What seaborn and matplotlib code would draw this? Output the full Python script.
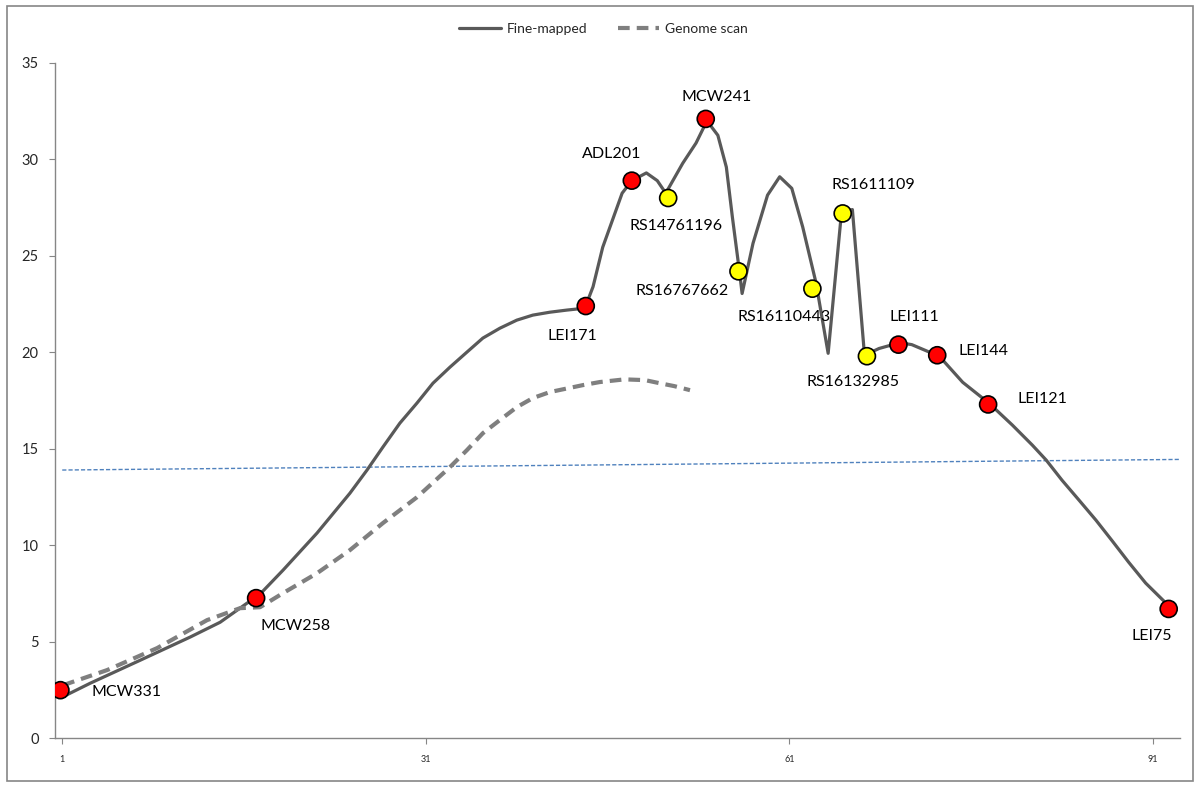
import matplotlib
matplotlib.use("Agg")
import pandas as pd
import matplotlib.pyplot as plt
import seaborn as sns
from matplotlib.patches import Rectangle

# Fine-mapped curve (position, score)
fine_x = [1, 3.31, 7.43, 11.55, 14.03, 16.25, 17.08, 19.22, 22.02, 24.74, 26.14, 27.46,
          28.86, 30.27, 31.59, 32.99, 34.39, 35.71, 37.11, 38.51, 39.83, 41.23, 42.63,
          44.12, 44.8, 45.6, 46.4, 47.2, 48.0, 49.2, 50.1, 50.8, 52.2, 53.3,
          54.2, 55.1, 55.8, 56.3, 56.9, 57.1, 58.0, 59.2, 60.2, 61.2, 62.1, 63.2,
          64.2, 65.3, 66.2, 67.2, 68.4, 70.1, 71.1, 72.6, 73.3, 75.3, 77.5, 79.4,
          81.05, 82.2, 83.5, 84.9, 86.3, 87.6, 89.0, 90.4, 92.4]
fine_y = [2.13, 2.85, 4.04, 5.24, 6.01, 7.0, 7.31, 8.71, 10.63, 12.70, 13.89, 15.09,
          16.33, 17.37, 18.40, 19.23, 20.01, 20.74, 21.25, 21.67, 21.93, 22.08, 22.19,
          22.29, 23.4, 25.45, 26.85, 28.25, 28.9, 29.3, 28.9, 28.25, 29.8, 30.85,
          32.0, 31.25, 29.6, 27.0, 24.1, 23.05, 25.65, 28.15, 29.1, 28.5, 26.5, 23.6,
          19.95, 27.25, 27.4, 19.85, 20.2, 20.5, 20.4, 20.0, 19.85, 18.45, 17.35, 16.23,
          15.19, 14.41, 13.37, 12.34, 11.30, 10.26, 9.12, 8.04, 6.8]

# Genome scan curve
scan_x = [1.08, 4.7, 8.83, 12.95, 15.67, 17.32, 19.22, 22.02, 24.74, 27.46, 30.27,
          32.99, 34.39, 35.71, 37.11, 38.51, 39.83, 41.23, 43.95, 45.35, 47.4, 49.1,
          50.3, 51.5, 52.8]
scan_y = [2.75, 3.53, 4.67, 6.12, 6.74, 6.79, 7.52, 8.55, 9.75, 11.15, 12.49,
          14.05, 14.93, 15.81, 16.49, 17.16, 17.63, 17.94, 18.30, 18.46, 18.6, 18.56,
          18.4, 18.25, 18.04]

# Threshold line end points
thr_x = [1, 93.2]
thr_y = [13.9, 14.45]

# Markers
marker_names = ["MCW331", "MCW258", "LEI171", "ADL201", "RS14761196", "MCW241",
                "RS16767662", "RS16110443", "RS1611109", "RS16132985", "LEI111",
                "LEI144", "LEI121", "LEI75"]
marker_x = [0.85, 17.0, 44.2, 48.0, 51.0, 54.1, 56.8, 62.9, 65.4, 67.4, 70.0, 73.2, 77.4, 92.3]
marker_y = [2.49, 7.26, 22.4, 28.9, 28.0, 32.1, 24.2, 23.3, 27.2, 19.8, 20.4, 19.85, 17.3, 6.7]
marker_kind = ["red", "red", "red", "red", "yellow", "red", "yellow", "yellow",
               "yellow", "yellow", "red", "red", "red", "red"]
# label offsets in pixels from the marker
label_dx = [66, 39, -13, -20, 8, 11, -56, -28, 31, -14, 16, 46, 54, -17]
label_dy = [-2, -28, -30, 27, -28, 22, -20, -28, 28, -26, 28, 4, 5, -27]

sns.set_style("white")
plt.rcParams["font.family"] = ["Lato", "DejaVu Sans"]
plt.rcParams["lines.solid_joinstyle"] = "round"
plt.rcParams["lines.dash_joinstyle"] = "round"

fig = plt.figure(figsize=(12, 7.87), dpi=100)
ax = fig.add_axes([0.046, 0.062, 0.937, 0.858])

fine = pd.DataFrame({"x": fine_x, "y": fine_y})
scan = pd.DataFrame({"x": scan_x, "y": scan_y})
marks = pd.DataFrame({"x": marker_x, "y": marker_y, "kind": marker_kind, "name": marker_names})

ax.plot(thr_x, thr_y, color="#4f81bd", lw=1.0, ls=(0, (3, 1.5)), zorder=1)
sns.lineplot(data=fine, x="x", y="y", ax=ax, sort=False, estimator=None,
             color="#595959", lw=2.3, label="Fine-mapped", zorder=2)
sns.lineplot(data=scan, x="x", y="y", ax=ax, sort=False, estimator=None,
             color="#7f7f7f", lw=3.0, ls=(0, (2.8, 1.7)), label="Genome scan", zorder=2)
sns.scatterplot(data=marks, x="x", y="y", hue="kind", palette={"red": "#ff0000", "yellow": "#ffff00"},
                s=150, edgecolor="black", linewidth=1.2, ax=ax, legend=False, zorder=3)

for name, x, y, dx, dy in zip(marker_names, marker_x, marker_y, label_dx, label_dy):
    ax.annotate(name, (x, y), xytext=(dx, dy), textcoords="offset pixels",
                ha="center", va="center", fontsize=11.5, color="black")

ax.set_xlim(0.42, 93.2)
ax.set_ylim(0, 35)
ax.set_xticks([1, 31, 61, 91])
ax.set_xticklabels(["1", "31", "61", "91"], fontsize=6.5)
ax.set_yticks(range(0, 36, 5))
ax.tick_params(axis="y", labelsize=10.5, length=4, width=0.8, color="#868686", pad=8, direction="out", left=True)
ax.tick_params(axis="x", length=4, width=0.8, color="#868686", pad=8, direction="out", bottom=True)
ax.set_xlabel("")
ax.set_ylabel("")
sns.despine(ax=ax)
for side in ["left", "bottom"]:
    ax.spines[side].set_color("#868686")
    ax.spines[side].set_linewidth(1.0)

ax.legend(loc="center", bbox_to_anchor=(0.503, 0.963), bbox_transform=fig.transFigure,
          ncol=2, frameon=False, fontsize=10, handlelength=3.0, columnspacing=2.2, handletextpad=0.4)

fig.patches.append(Rectangle((0.006, 0.007), 0.988, 0.985, transform=fig.transFigure,
                             fill=False, edgecolor="#868686", lw=1.2))

fig.savefig("out.png", dpi=100)
